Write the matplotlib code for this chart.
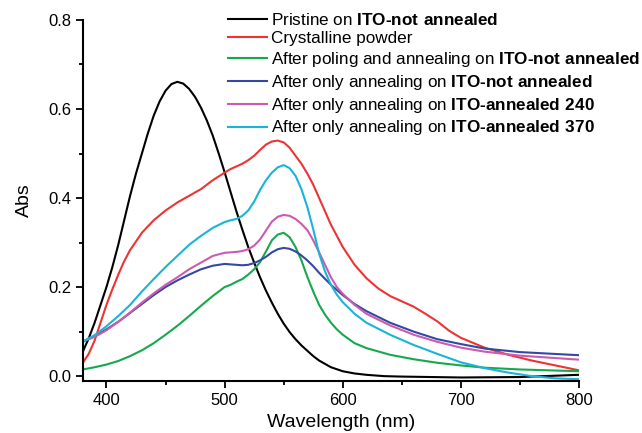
import numpy as np
import matplotlib
matplotlib.use('Agg')
import matplotlib.pyplot as plt
from matplotlib.ticker import MultipleLocator

plt.rcParams['font.family'] = ['Liberation Sans', 'DejaVu Sans']
plt.rcParams['mathtext.fontset'] = 'custom'
plt.rcParams['mathtext.rm'] = 'Liberation Sans'
plt.rcParams['mathtext.bf'] = 'Liberation Sans:bold'

# wavelength (nm) / absorbance
wl_black = [380, 385, 390, 395, 400, 405, 410, 415, 420, 425, 430, 435, 440, 445, 450,
            455, 460, 465, 470, 475, 480, 485, 490, 495, 500, 505, 510, 515, 520, 525,
            530, 535, 540, 545, 550, 555, 560, 565, 570, 575, 580, 590, 600, 610, 620,
            635, 650, 700, 750, 800]
abs_black = [0.055, 0.085, 0.12, 0.16, 0.20, 0.245, 0.295, 0.35, 0.405, 0.455, 0.50,
             0.545, 0.585, 0.617, 0.641, 0.656, 0.661, 0.657, 0.645, 0.627, 0.603,
             0.574, 0.54, 0.50, 0.458, 0.414, 0.37, 0.329, 0.29, 0.255, 0.222, 0.192,
             0.165, 0.14, 0.118, 0.099, 0.083, 0.069, 0.057, 0.045, 0.035, 0.02, 0.011,
             0.006, 0.003, 0.0, -0.001, -0.003, -0.002, 0.003]

wl_red = [380, 385, 390, 395, 400, 405, 410, 415, 420, 430, 440, 450, 460, 470, 480,
          490, 500, 505, 510, 515, 520, 525, 530, 535, 540, 545, 550, 555, 560, 565,
          570, 575, 580, 585, 590, 595, 600, 605, 610, 620, 630, 640, 650, 660, 670,
          680, 690, 700, 710, 720, 740, 760, 780, 800]
abs_red = [0.03, 0.05, 0.08, 0.12, 0.16, 0.195, 0.228, 0.258, 0.283, 0.322, 0.35,
           0.372, 0.39, 0.405, 0.42, 0.44, 0.457, 0.465, 0.471, 0.477, 0.485, 0.495,
           0.508, 0.52, 0.527, 0.529, 0.525, 0.513, 0.495, 0.477, 0.455, 0.43, 0.40,
           0.37, 0.34, 0.315, 0.29, 0.27, 0.25, 0.22, 0.197, 0.18, 0.168, 0.156, 0.14,
           0.123, 0.102, 0.086, 0.075, 0.064, 0.048, 0.035, 0.024, 0.013]

wl_green = [380, 390, 400, 410, 420, 430, 440, 450, 460, 470, 480, 490, 500, 505, 510,
            515, 520, 525, 530, 535, 540, 545, 550, 555, 560, 565, 570, 575, 580, 585,
            590, 595, 600, 610, 620, 640, 660, 680, 700, 720, 750, 800]
abs_green = [0.015, 0.02, 0.026, 0.034, 0.045, 0.058, 0.074, 0.093, 0.113, 0.135,
             0.158, 0.18, 0.2, 0.205, 0.212, 0.218, 0.228, 0.24, 0.256, 0.28, 0.305,
             0.318, 0.322, 0.312, 0.29, 0.26, 0.223, 0.19, 0.16, 0.138, 0.12, 0.105,
             0.093, 0.074, 0.063, 0.048, 0.038, 0.03, 0.024, 0.019, 0.015, 0.011]

wl_blue = [380, 390, 400, 410, 420, 430, 440, 450, 460, 470, 480, 490, 500, 510, 515,
           520, 525, 530, 535, 540, 545, 550, 555, 560, 565, 570, 575, 580, 590, 600,
           610, 620, 640, 660, 680, 700, 720, 750, 800]
abs_blue = [0.077, 0.09, 0.105, 0.122, 0.142, 0.162, 0.182, 0.2, 0.215, 0.228, 0.24,
            0.248, 0.252, 0.25, 0.249, 0.25, 0.254, 0.26, 0.268, 0.278, 0.285, 0.288,
            0.286, 0.28, 0.271, 0.26, 0.247, 0.232, 0.205, 0.182, 0.162, 0.146, 0.12,
            0.1, 0.083, 0.072, 0.062, 0.054, 0.047]

wl_mag = [380, 390, 400, 410, 420, 430, 440, 450, 460, 470, 480, 490, 500, 505, 510,
          515, 520, 525, 530, 535, 540, 545, 550, 555, 560, 565, 570, 575, 580, 585,
          590, 595, 600, 610, 620, 640, 660, 680, 700, 720, 750, 800]
abs_mag = [0.078, 0.088, 0.103, 0.122, 0.143, 0.165, 0.186, 0.205, 0.222, 0.24, 0.255,
           0.27, 0.277, 0.278, 0.279, 0.281, 0.285, 0.293, 0.307, 0.327, 0.347, 0.358,
           0.362, 0.36, 0.353, 0.342, 0.328, 0.305, 0.278, 0.25, 0.222, 0.2, 0.185,
           0.16, 0.14, 0.114, 0.093, 0.077, 0.064, 0.055, 0.046, 0.037]

wl_cyan = [380, 390, 400, 410, 420, 430, 440, 450, 460, 470, 480, 490, 500, 505, 510,
           515, 520, 525, 530, 535, 540, 545, 550, 555, 560, 565, 570, 575, 580, 585,
           590, 595, 600, 610, 620, 640, 660, 680, 700, 720, 740, 760, 780, 800]
abs_cyan = [0.078, 0.092, 0.112, 0.135, 0.16, 0.19, 0.218, 0.245, 0.27, 0.295, 0.315,
            0.333, 0.346, 0.35, 0.353, 0.36, 0.372, 0.392, 0.418, 0.44, 0.457, 0.469,
            0.474, 0.467, 0.45, 0.42, 0.38, 0.33, 0.275, 0.235, 0.205, 0.183, 0.166,
            0.14, 0.12, 0.093, 0.07, 0.05, 0.031, 0.018, 0.008, 0.0, -0.005, -0.007]

labels = [
    'Pristine on $\\mathbf{ITO\u2010not\\ annealed}$',
    'Crystalline powder',
    'After poling and annealing on $\\mathbf{ITO\u2010not\\ annealed}$',
    'After only annealing on $\\mathbf{ITO\u2010not\\ annealed}$',
    'After only annealing on $\\mathbf{ITO\u2010annealed\\ 240}$',
    'After only annealing on $\\mathbf{ITO\u2010annealed\\ 370}$',
]
colors = ['#000000', '#ee3333', '#17a84e', '#3448a4', '#cc5bb0', '#1ab4d6']

fig = plt.figure(figsize=(6.42, 4.33), dpi=100)
ax = fig.add_axes([0.129, 0.12, 0.773, 0.834])

series = [(wl_black, abs_black), (wl_red, abs_red), (wl_green, abs_green),
          (wl_blue, abs_blue), (wl_mag, abs_mag), (wl_cyan, abs_cyan)]
for (x, y), c, lab in zip(series, colors, labels):
    ax.plot(x, y, color=c, lw=1.5, label=lab, solid_joinstyle='round')

ax.set_xlim(380, 800)
ax.set_ylim(-0.011, 0.8)
ax.xaxis.set_major_locator(MultipleLocator(100))
ax.xaxis.set_minor_locator(MultipleLocator(50))
ax.yaxis.set_minor_locator(MultipleLocator(0.1))
ax.set_yticks([0.0, 0.2, 0.4, 0.6, 0.8])
ax.set_yticklabels(['0.0', '0.2', '0.4', '0.6', '0.8'])
ax.tick_params(which='major', direction='out', length=5, width=1.3, labelsize=12)
ax.tick_params(which='minor', direction='out', length=3, width=1.3)
for s in ['top', 'right']:
    ax.spines[s].set_visible(False)
for s in ['left', 'bottom']:
    ax.spines[s].set_linewidth(1.5)

ax.set_xlabel('Wavelength (nm)', fontsize=14)
ax.xaxis.set_label_coords(0.52, -0.092)
ax.set_ylabel('Abs', fontsize=14, labelpad=11)

leg = ax.legend(loc='upper left', bbox_to_anchor=(0.355, 0.973),
                bbox_transform=fig.transFigure, frameon=False,
                fontsize=12.3, handlelength=2.3, handletextpad=0.22,
                labelspacing=0.22, borderpad=0, borderaxespad=0)

fig.savefig('out.png', dpi=100)
